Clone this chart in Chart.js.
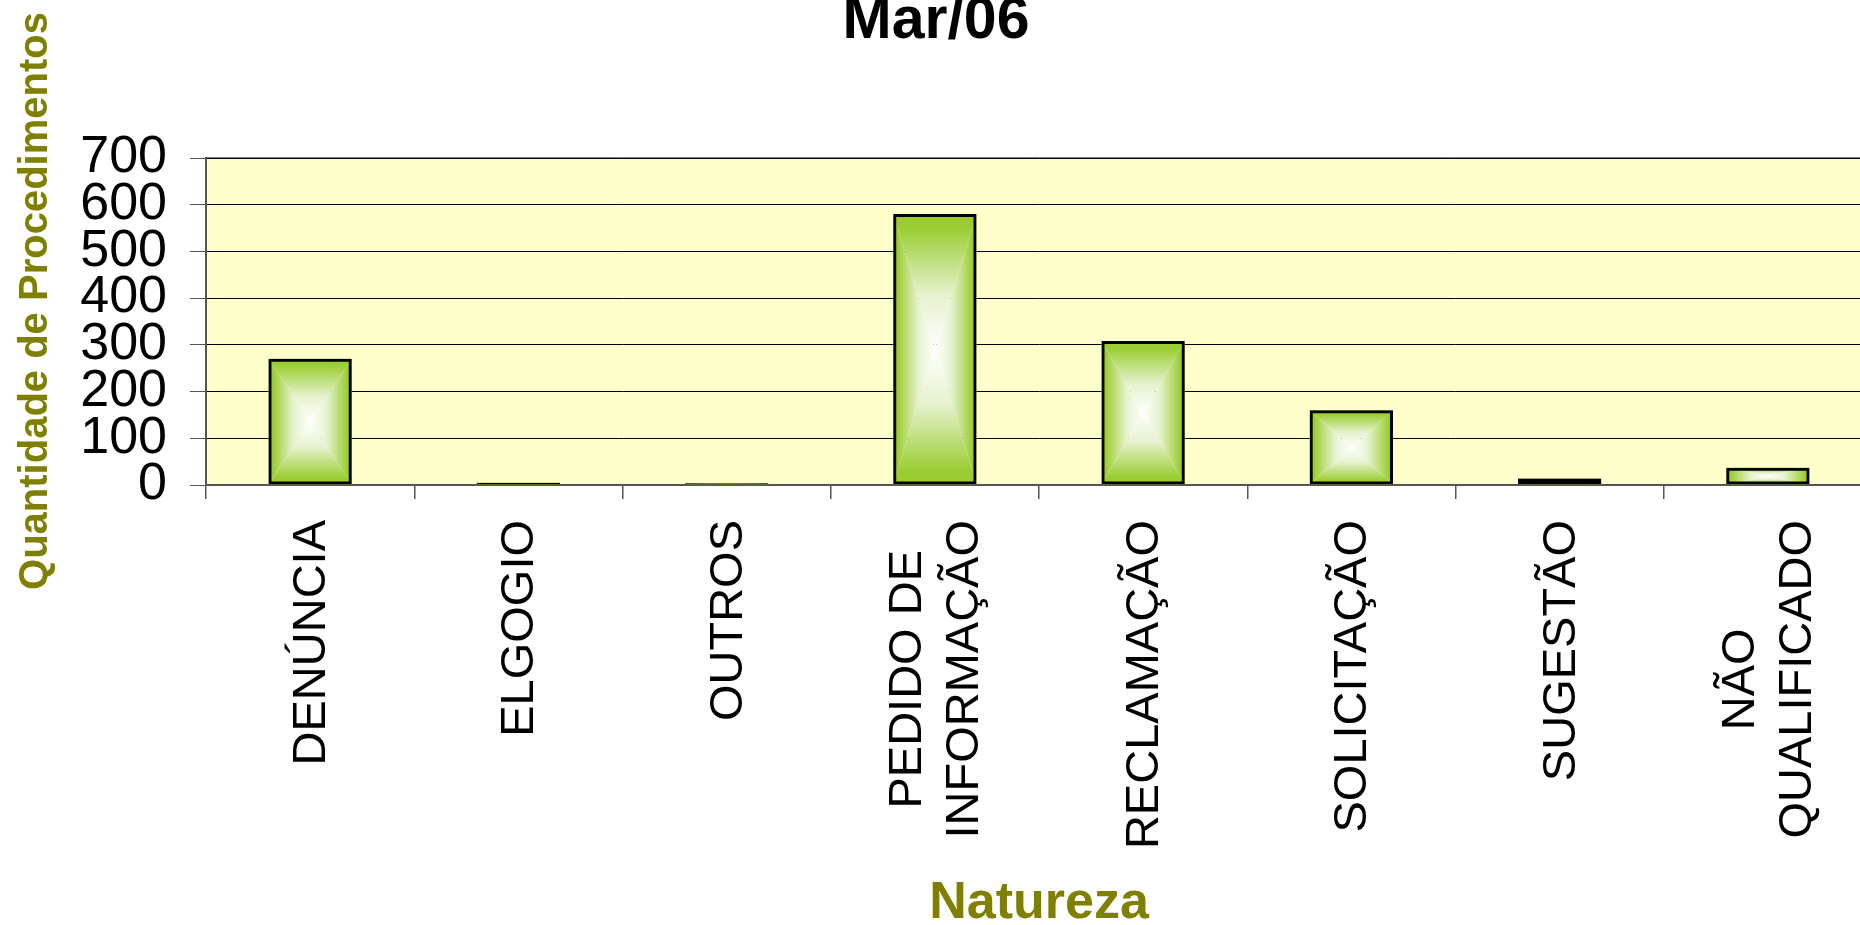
<!DOCTYPE html>
<html>
<head>
<meta charset="utf-8">
<script src="https://cdn.jsdelivr.net/npm/chart.js@4.4.1/dist/chart.umd.min.js"></script>
<style>
  html, body { margin: 0; padding: 0; background: #fff; overflow: hidden; }
  canvas { display: block; }
</style>
</head>
<body>
<canvas id="natChart" width="1875" height="925"></canvas>
<script>
// data
const categories = ['DENÚNCIA', 'ELGOGIO', 'OUTROS', ['PEDIDO DE', 'INFORMAÇÃO'], 'RECLAMAÇÃO', 'SOLICITAÇÃO', 'SUGESTÃO', ['NÃO', 'QUALIFICADO']];
const quantidades = [270, 5, 4, 580, 308, 160, 14, 37];
const yTicks = [0, 100, 200, 300, 400, 500, 600, 700];

const chartTitle = 'Mar/06';
const xTitle = 'Natureza';
const yTitle = 'Quantidade de Procedimentos';

const FONT = "'Liberation Sans', Arial, sans-serif";
const GREEN = '#9ACD32';
const OLIVE = '#808000';

Chart.defaults.font.family = FONT;

// pale yellow plot area with grey top edge
const plotBackground = {
    id: 'plotBackground',
    beforeDraw(chart) {
        const { ctx, chartArea: a } = chart;
        ctx.save();
        ctx.fillStyle = '#FFFFCC';
        ctx.fillRect(a.left, a.top, a.right - a.left, a.bottom - a.top);
        ctx.strokeStyle = '#808080';
        ctx.lineWidth = 2;
        ctx.beginPath();
        ctx.moveTo(a.left, a.top);
        ctx.lineTo(a.right, a.top);
        ctx.stroke();
        ctx.restore();
    }
};

// rectangular "from centre" gradient inside each bar (green edges, white middle)
const boxGradient = {
    id: 'boxGradient',
    beforeDatasetsDraw(chart) {
        const { ctx } = chart;
        const meta = chart.getDatasetMeta(0);
        meta.data.forEach(bar => {
            const p = bar.getProps(['x', 'y', 'base', 'width'], true);
            const x0 = p.x - p.width / 2, x1 = p.x + p.width / 2;
            const y0 = Math.min(p.y, p.base), y1 = Math.max(p.y, p.base);
            const cx = (x0 + x1) / 2, cy = (y0 + y1) / 2;
            const parts = [
                [[x0, y0], [x1, y0], [cx, y0]],
                [[x0, y1], [x1, y1], [cx, y1]],
                [[x0, y0], [x0, y1], [x0, cy]],
                [[x1, y0], [x1, y1], [x1, cy]]
            ];
            ctx.save();
            parts.forEach(([a, b, edge]) => {
                const g = ctx.createLinearGradient(edge[0], edge[1], cx, cy);
                g.addColorStop(0, GREEN);
                g.addColorStop(0.1, GREEN);
                g.addColorStop(0.6, '#E6F2CF');
                g.addColorStop(1, '#FFFFFF');
                ctx.fillStyle = g;
                ctx.beginPath();
                ctx.moveTo(a[0], a[1]);
                ctx.lineTo(b[0], b[1]);
                ctx.lineTo(cx, cy);
                ctx.closePath();
                ctx.fill();
            });
            ctx.restore();
        });
    }
};

// titles and the rotated category labels
const chartTexts = {
    id: 'chartTexts',
    afterDraw(chart) {
        const { ctx, chartArea: a } = chart;
        const xScale = chart.scales.x;
        ctx.save();
        ctx.fillStyle = '#000';
        ctx.textAlign = 'center';
        ctx.textBaseline = 'alphabetic';
        ctx.font = 'bold 59px ' + FONT;
        ctx.fillText(chartTitle, 936, 38);

        ctx.fillStyle = OLIVE;
        ctx.font = 'bold 52px ' + FONT;
        ctx.fillText(xTitle, (a.left + a.right) / 2, 918);

        ctx.save();
        ctx.translate(47, 301);
        ctx.rotate(-Math.PI / 2);
        ctx.font = 'bold 40px ' + FONT;
        ctx.fillText(yTitle, 0, 0);
        ctx.restore();

        ctx.fillStyle = '#000';
        ctx.font = '47px ' + FONT;
        ctx.textBaseline = 'middle';
        const lineH = 57;
        categories.forEach((lab, i) => {
            const lines = Array.isArray(lab) ? lab : [lab];
            const maxW = Math.max(...lines.map(l => ctx.measureText(l).width));
            const x = xScale.getPixelForTick(i);
            ctx.save();
            ctx.translate(x, 520 + maxW / 2);
            ctx.rotate(-Math.PI / 2);
            lines.forEach((l, j) => {
                ctx.fillText(l, 0, (j - (lines.length - 1) / 2) * lineH + 2);
            });
            ctx.restore();
        });
        ctx.restore();
    }
};

new Chart(document.getElementById('natChart'), {
    type: 'bar',
    data: {
        labels: categories,
        datasets: [{
            data: quantidades,
            backgroundColor: 'rgba(0,0,0,0)',
            borderColor: '#000',
            borderWidth: 3,
            borderSkipped: false,
            barPercentage: 0.4,
            categoryPercentage: 1
        }]
    },
    options: {
        responsive: false,
        animation: false,
        layout: { padding: { top: 158, left: 0, right: 3, bottom: 0 } },
        plugins: {
            legend: { display: false },
            tooltip: { enabled: false },
            title: { display: false }
        },
        scales: {
            x: {
                afterFit(s) { s.height = 440; },
                ticks: { display: false },
                grid: { drawOnChartArea: false, offset: true, tickLength: 14, color: '#555', lineWidth: 1.5 },
                border: { color: '#555', width: 2 }
            },
            y: {
                min: 0,
                max: 700,
                afterFit(s) { s.width = 206; },
                afterBuildTicks(s) { s.ticks = yTicks.map(v => ({ value: v })); },
                ticks: { color: '#000', font: { size: 52 }, padding: 23, autoSkip: false },
                grid: { color: '#000', lineWidth: 1, tickLength: 16, tickColor: '#555' },
                border: { color: '#555', width: 2 }
            }
        }
    },
    plugins: [plotBackground, boxGradient, chartTexts]
});
</script>
</body>
</html>
